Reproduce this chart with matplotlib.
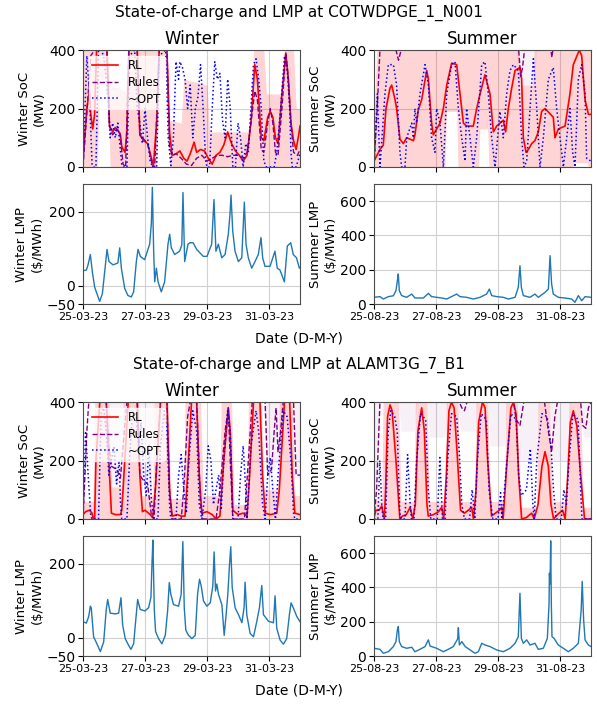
import matplotlib
matplotlib.use("Agg")
import matplotlib.pyplot as plt
import matplotlib.dates as mdates
import numpy as np
import pandas as pd

# --- values: (hours since start of week, value) ---

winter_start = "2023-03-25"
summer_start = "2023-08-25"
nodes = ["COTWDPGE_1_N001", "ALAMT3G_7_B1"]

# ---------------- COTWDPGE_1_N001 ----------------
cot_win_rl = [(0, 30), (3, 200), (5, 260), (6, 180), (7.5, 130), (9, 180), (10.5, 400), (18.5, 400),
              (20.5, 140), (23, 120), (25, 135), (27, 125), (29, 110), (30, 70), (32.5, 50), (34, 120),
              (35.5, 400), (42, 400), (44, 110), (47, 90), (50, 80), (54.5, 5), (57, 150), (59, 400),
              (65, 400), (67, 120), (69, 40), (72, 45), (75, 55), (78, 30), (80.5, 20), (83, 45), (86, 85),
              (88, 50), (91, 60), (94, 55), (97, 30), (100, 10), (103, 40), (106, 50), (109, 75), (112, 120),
              (115, 80), (118, 55), (121, 40), (124, 20), (127, 40), (130, 150), (133, 350), (135, 300),
              (138, 100), (140, 90), (143, 170), (145, 190), (147, 170), (149, 100), (151, 80), (154, 250),
              (157, 390), (159, 300), (161, 150), (163, 90), (165, 60), (167, 110), (168, 140)]
cot_win_rules = [(0, 0), (4, 250), (6, 380), (9, 400), (18.5, 400), (20.5, 140), (23, 110), (26, 130),
                 (28.5, 120), (31, 10), (33, 0), (35.5, 400), (42, 400), (44, 110), (47, 95), (50, 80),
                 (54, 0), (55.5, 0), (59, 400), (65, 400), (67, 70), (69, 40), (72, 45), (76, 30), (80, 10),
                 (84, 5), (88, 30), (92, 40), (96, 20), (100, 30), (104, 40), (108, 40), (112, 35), (116, 40),
                 (120, 40), (124, 30), (127, 50), (130, 150), (133, 260), (135, 230), (138, 60), (140, 50),
                 (143, 150), (145, 200), (147, 150), (149, 50), (151, 40), (154, 200), (157, 390), (159, 300),
                 (161, 150), (163, 50), (166, 40), (168, 60)]
cot_win_opt = [(0, 0), (3, 380), (5, 250), (7, 10), (8, 0), (10, 0), (12, 400), (14, 400), (16, 380),
               (18, 300), (20, 200), (21, 100), (23, 150), (25, 100), (27, 150), (28, 100), (30, 10), (31, 0),
               (34, 0), (36, 380), (40, 400), (42, 200), (44, 150), (46, 80), (48, 200), (50, 100), (52, 20),
               (54, 0), (57, 0), (59, 380), (64, 400), (66, 100), (68, 5), (70, 100), (72, 360), (74, 300),
               (75, 360), (77, 340), (79, 300), (81, 200), (83, 280), (85, 100), (87, 200), (89, 240),
               (91, 350), (93, 200), (95, 20), (96, 0), (98, 0), (100, 200), (102, 360), (104, 300),
               (106, 320), (108, 160), (110, 100), (112, 300), (114, 200), (116, 0), (118, 0), (120, 150),
               (122, 100), (124, 0), (126, 80), (128, 50), (130, 200), (132, 350), (134, 370), (136, 300),
               (138, 200), (140, 20), (142, 0), (148, 0), (150, 50), (153, 200), (156, 380), (158, 340),
               (160, 200), (161, 50), (162, 0), (165, 0), (167, 30), (168, 50)]
cot_win_rl_band = [(0, 0, 400), (11, 0, 400), (13, 300, 400), (19, 300, 400), (21, 0, 280), (33, 0, 260),
                   (35, 0, 400), (57, 0, 400), (59, 300, 400), (65, 300, 400), (67, 0, 160), (76, 0, 150),
                   (78, 0, 300), (96, 0, 280), (98, 0, 120), (130, 0, 120), (132, 0, 400), (140, 0, 400),
                   (142, 0, 250), (154, 0, 250), (156, 0, 400), (163, 0, 400), (165, 0, 200), (168, 0, 200)]
cot_win_ru_band = []
cot_win_lmp = [(0, 40), (2.6, 42), (3.9, 56), (5.7, 84), (7.2, 38), (9, -4), (10.3, -17), (12.9, -43),
               (15, -22), (16.8, 38), (18.6, 98), (20.1, 65), (23.2, 56), (27, 61), (28.4, 102), (29.7, 47),
               (32.3, -8), (34.8, -27), (37.4, -31), (39.2, -17), (41.3, 65), (42.6, 98), (44.4, 79),
               (47.7, 70), (51.6, 112), (52.9, 167), (53.7, 266), (54.7, 93), (55.5, 10), (56.8, 47),
               (58.1, 10), (60.6, -17), (63.2, 10), (65.8, 112), (67.1, 139), (68.4, 102), (71, 84),
               (74.8, 93), (76.5, 110), (77.4, 252), (78.7, 65), (81.3, 112), (82.8, 116), (85.2, 116),
               (88, 98), (93.1, 79), (96, 79), (99.6, 112), (101.4, 233), (102.9, 93), (104.8, 112),
               (107.4, 75), (110, 84), (112.5, 139), (113.8, 194), (114.6, 245), (115.9, 148), (117.7, 93),
               (120.3, 65), (122.9, 75), (124.9, 226), (126.2, 112), (128, 75), (130.6, 47), (133.2, 65),
               (135.7, 84), (137.8, 130), (139.1, 75), (140.9, 52), (144.8, 52), (148.6, 93), (150.4, 47),
               (152.5, 42), (155.9, 10), (158.2, 107), (160.8, 116), (162.8, 84), (165.3, 75), (167.5, 47),
               (168, 49)]

cot_sum_rl = [(0, 20), (4.6, 60), (7.2, 75), (9.3, 200), (12.4, 270), (13.7, 280), (16.3, 230), (17.5, 200),
              (20.1, 95), (22.7, 80), (25.3, 100), (30.5, 90), (31.7, 110), (34.3, 195), (36.9, 230),
              (40.8, 330), (42.1, 300), (44.6, 150), (45.9, 110), (48.5, 130), (51.1, 150), (53.7, 200),
              (56.3, 280), (60.1, 355), (64, 350), (66.6, 250), (69.2, 150), (71.7, 140), (76.9, 140),
              (79.5, 200), (82.1, 250), (85.9, 315), (89.8, 250), (92.4, 120), (95, 140), (97.5, 150),
              (100.1, 160), (101.9, 120), (104, 200), (106.6, 270), (109.2, 330), (113, 340), (114.3, 300),
              (115.6, 100), (117.7, 50), (119.5, 60), (122.1, 80), (124.6, 90), (127.2, 120), (129.8, 190),
              (132.4, 200), (138.8, 170), (140.1, 100), (142.7, 130), (147.9, 140), (151.7, 250),
              (154.3, 350), (159, 400), (160.8, 380), (163.4, 230), (166, 180), (168, 180)]
cot_sum_rules = [(0, 0), (3, 250), (4.6, 400), (17, 400), (19, 365), (21, 400), (112, 400), (113.5, 310),
                 (115, 340), (116.5, 400), (137, 400), (137.7, 375), (138.5, 400), (168, 400)]
cot_sum_opt = [(0, 0), (2.6, 250), (4.6, 0), (8.5, 250), (11.1, 350), (15, 350), (17.5, 280), (20.1, 50),
               (21.4, 0), (24, 0), (25.3, 100), (29.2, 150), (30.5, 100), (31.7, 200), (33, 150), (35.6, 250),
               (39.5, 350), (42.1, 280), (44.6, 100), (47.2, 50), (48.5, 200), (51.1, 150), (53.7, 0),
               (56.3, 250), (60.1, 350), (62.7, 360), (65.3, 200), (67.9, 100), (70.5, 20), (71.7, 200),
               (73, 150), (76.9, 0), (79.5, 100), (83.4, 350), (85.9, 360), (88.5, 250), (91.1, 100),
               (93.7, 0), (97.5, 190), (100.1, 100), (102.7, 250), (105.3, 330), (107.9, 350), (111.7, 330),
               (114.3, 100), (116.1, 0), (118.2, 20), (120.8, 200), (123.4, 370), (126, 200), (128.5, 0),
               (131.1, 100), (135, 300), (138.8, 340), (141.4, 200), (144, 100), (146.6, 0), (149.2, 100),
               (151.7, 200), (153.8, 50), (155.6, 0), (158.2, 300), (160.8, 350), (163.4, 250), (164.6, 30),
               (168, 20)]
cot_sum_rl_band = [(0, 0, 150), (2, 0, 400), (55, 0, 400), (56, 190, 400), (64, 190, 400), (65, 0, 400),
                   (81, 0, 400), (82, 130, 400), (88, 130, 400), (89, 0, 400), (112, 0, 400), (113, 0, 280),
                   (123, 0, 280), (124, 0, 400), (154, 0, 400), (155, 15, 400), (165, 15, 400), (166, 0, 400),
                   (168, 0, 400)]
cot_sum_ru_band = [(110, 400, 400), (112, 280, 400), (124, 280, 400), (126, 400, 400)]
cot_sum_lmp = [(0, 39), (4.6, 43), (7.2, 29), (11.1, 43), (15, 48), (17, 78), (18.1, 136), (18.8, 175),
               (19.6, 78), (21.4, 49), (25.3, 39), (29.2, 58), (31.7, 35), (38.2, 35), (42.1, 62), (44.6, 43),
               (48.5, 39), (52.4, 35), (56.3, 29), (64, 58), (66.6, 43), (71.7, 39), (76.9, 29), (82.1, 39),
               (87.2, 58), (89.3, 87), (91.1, 49), (95, 43), (100.1, 39), (104, 29), (109.2, 39), (111.7, 97),
               (113, 223), (114.1, 97), (115.6, 49), (120.8, 39), (124.6, 58), (127.2, 39), (132.4, 68),
               (135, 87), (136.3, 282), (137.5, 117), (138.8, 58), (142.7, 39), (147.9, 35), (153, 29),
               (155.6, 10), (158.2, 49), (160.8, 19), (163.4, 43), (168, 39)]

# ---------------- ALAMT3G_7_B1 ----------------
ala_win_rl = [(0, 15), (2, 25), (5, 30), (7, 20), (8, 0), (9, 0), (10, 200), (13, 400), (18, 400), (20, 200),
              (22, 20), (25, 15), (29, 15), (30, 30), (31, 100), (35, 400), (42, 400), (44, 150), (46, 25),
              (48, 30), (52, 15), (54, 5), (56, 100), (60, 400), (65, 400), (67, 100), (69, 10), (73, 15),
              (76, 10), (79, 10), (81, 150), (84, 400), (88, 400), (90, 150), (92, 20), (96, 25), (100, 15),
              (103, 0), (106, 10), (109, 200), (112.5, 380), (114, 300), (116, 30), (120, 15), (124, 20),
              (127, 10), (129, 150), (132, 400), (137, 400), (139, 150), (141, 20), (145, 15), (150, 20),
              (152, 100), (156, 400), (160, 400), (162, 150), (164, 20), (168, 15)]
ala_win_rules = [(0, 0), (3, 300), (4.5, 400), (18, 400), (20, 250), (22, 180), (26, 170), (29, 140),
                 (31, 250), (34, 400), (42, 400), (44, 150), (47, 130), (50, 120), (53, 10), (55, 0), (57, 200),
                 (60, 400), (65, 400), (67, 100), (69, 0), (76, 0), (78, 100), (81, 350), (83, 400), (88, 400),
                 (91, 50), (93, 0), (103, 0), (106, 100), (110, 300), (112.5, 380), (114, 200), (116, 0),
                 (125, 0), (128, 200), (131, 400), (141, 400), (143, 150), (146, 170), (148, 300),
                 (149.5, 380), (151, 230), (153, 300), (155, 400), (163, 400), (165, 150), (168, 150)]
ala_win_opt = [(0, 0), (2, 300), (4, 150), (6, 10), (7, 0), (12, 0), (14, 360), (16, 380), (18, 300),
               (20, 150), (22, 200), (24, 250), (26, 120), (28, 200), (29, 60), (30, 0), (34, 0), (36, 200),
               (38, 350), (41, 360), (43, 250), (45, 330), (47, 150), (49, 80), (51, 250), (53, 60), (55, 0),
               (58, 0), (60, 250), (63, 370), (65, 300), (67, 50), (68, 0), (72, 0), (74, 150), (76, 220),
               (78, 100), (80, 20), (82, 200), (85, 370), (88, 300), (90, 50), (92, 0), (95, 100), (97, 250),
               (99, 200), (101, 50), (103, 100), (105, 150), (107, 30), (109, 200), (112, 370), (114, 300),
               (116, 0), (120, 0), (122, 150), (124, 250), (126, 100), (127, 0), (130, 250), (134, 370),
               (136, 300), (139, 50), (141, 0), (143, 150), (145, 210), (147, 100), (149, 0), (151, 150),
               (155, 370), (158, 350), (161, 200), (163, 20), (164, 0), (168, 0)]
ala_win_rl_band = [(0, 0, 60), (8, 0, 60), (9, 0, 400), (20, 0, 400), (22, 0, 110), (30, 0, 110),
                   (31, 0, 400), (43, 0, 400), (45, 0, 80), (54, 0, 80), (55, 0, 400), (66, 0, 400),
                   (68, 0, 70), (78, 0, 70), (79, 0, 400), (91, 0, 400), (93, 0, 80), (106, 0, 80),
                   (107, 0, 400), (115, 0, 400), (117, 0, 50), (127, 0, 50), (128, 0, 400), (138, 0, 400),
                   (140, 0, 100), (151, 0, 100), (152, 0, 400), (162, 0, 400), (164, 0, 80), (168, 0, 80)]
ala_win_ru_band = [(18, 400, 400), (20, 120, 400), (30, 120, 400), (32, 400, 400), (42, 400, 400),
                   (44, 120, 400), (53, 100, 400), (55, 400, 400), (140, 400, 400), (142, 140, 400),
                   (152, 200, 400), (154, 400, 400), (163, 400, 400), (165, 140, 400), (168, 140, 400)]
ala_win_lmp = [(0, 43), (2.6, 39), (4.4, 57), (5.7, 85), (6.4, 80), (8.2, 2), (10.8, -17), (13.4, -38),
               (16, -12), (18, 76), (19.1, 103), (21.1, 66), (25, 64), (27.6, 66), (29.4, 108), (30.7, 34),
               (32.7, -3), (35.3, -21), (37.1, -32), (39.2, -17), (40.5, 34), (42.3, 103), (44.3, 76),
               (48, 72), (50.8, 81), (52.6, 109), (53.4, 200), (54.1, 264), (55.2, 76), (56.2, 16),
               (58.5, -3), (61.1, -17), (63.7, 6), (65.5, 72), (66.8, 149), (68, 117), (70.1, 89), (74, 85),
               (76, 117), (77.3, 260), (78.4, 80), (79.6, 20), (81.7, 6), (84.3, -3), (86.9, 6), (88.7, 117),
               (90.2, 158), (91.5, 140), (93.3, 99), (95.9, 85), (98.5, 94), (100.5, 140), (101.5, 232),
               (102.6, 126), (103.6, 145), (104.9, 117), (107.5, 89), (109.3, 6), (110.8, 62), (112.1, 117),
               (113.4, 196), (114.4, 246), (115.5, 136), (117.8, 80), (120.4, 62), (123, 40), (124.7, 81),
               (125.5, 150), (126.8, 62), (129.4, 11), (132, 2), (134.5, 43), (136.6, 81), (138.4, 141),
               (139.7, 62), (143.6, 44), (147.4, 40), (148.7, 113), (150, 25), (152.6, -7), (155.2, -18),
               (157.7, -3), (159.8, 62), (161.1, 94), (162.9, 80), (165.5, 57), (168, 43)]

ala_sum_rl = [(0, 5), (1.5, 30), (4, 30), (6, 45), (8, 0), (9, 100), (10.5, 350), (12.4, 390), (14, 370),
              (17, 200), (20, 0), (22, 10), (25, 15), (28, 40), (30, 0), (32, 50), (34, 300), (36.9, 380),
              (39, 300), (41, 50), (42, 10), (46, 15), (50, 25), (52.4, 40), (54, 0), (56, 150), (58, 370),
              (60, 400), (62, 380), (64, 250), (67, 30), (70, 20), (73, 30), (75.6, 40), (77, 0), (79, 100),
              (81, 330), (84, 400), (86, 380), (88, 200), (91, 10), (94, 20), (97, 30), (99, 40), (100, 0),
              (103, 200), (106, 380), (108, 400), (110, 360), (112, 150), (114.3, 0), (118, 5), (122, 20),
              (124, 0), (127, 50), (130, 180), (132.4, 230), (135, 180), (137, 50), (139, 0), (142, 15),
              (146, 30), (148, 0), (150, 150), (152, 330), (154.3, 370), (157, 320), (160, 150), (163, 0),
              (168, 0)]
ala_sum_rules = [(0, 0), (2, 100), (4.6, 400), (66, 400), (68, 380), (70, 370), (72, 400), (108, 400),
                 (110, 340), (113, 320), (116, 400), (132, 400), (135, 300), (137.5, 230), (140, 350),
                 (142, 400), (160, 400), (161.5, 320), (164, 310), (166, 380), (168, 400)]
ala_sum_opt = [(0, 0), (3, 0), (4.5, 200), (6, 50), (7, 0), (9, 0), (11, 300), (13, 370), (16, 350),
               (18, 300), (20, 20), (21, 0), (24, 0), (26, 220), (28, 50), (29, 0), (31, 0), (33, 200),
               (36, 360), (40, 340), (42, 100), (44, 0), (49, 0), (51, 210), (53, 0), (55, 0), (57, 200),
               (60, 360), (64, 350), (66, 230), (68, 50), (70, 0), (74, 0), (76, 100), (78, 0), (80, 200),
               (83, 360), (87, 340), (89, 100), (92, 0), (96, 0), (98, 90), (99, 0), (102, 150), (106, 360),
               (110, 340), (112, 150), (114, 80), (118, 100), (121, 240), (123, 50), (124, 0), (126, 200),
               (130, 360), (134, 350), (137, 250), (139, 100), (141, 0), (145, 0), (147, 100), (149, 50),
               (151, 200), (154, 360), (158, 340), (160, 100), (161, 0), (168, 0)]
ala_sum_rl_band = [(0, 0, 60), (6, 0, 60), (7, 0, 400), (19, 0, 400), (21, 0, 60), (31, 0, 60),
                   (32, 0, 400), (41, 0, 400), (43, 0, 60), (55, 0, 60), (56, 0, 400), (65, 0, 400),
                   (67, 0, 60), (78, 0, 60), (79, 0, 400), (88, 0, 400), (90, 0, 60), (101, 0, 60),
                   (102, 0, 400), (111, 0, 400), (113, 0, 40), (126, 0, 40), (127, 0, 400), (136, 0, 400),
                   (138, 0, 60), (150, 0, 60), (151, 0, 400), (160, 0, 400), (162, 0, 40), (168, 0, 40)]
ala_sum_ru_band = [(0, 0, 400), (5, 400, 400), (19, 400, 400), (21, 300, 400), (31, 300, 400),
                   (33, 400, 400), (41, 400, 400), (43, 280, 400), (55, 280, 400), (57, 400, 400),
                   (65, 400, 400), (67, 300, 400), (78, 300, 400), (80, 400, 400), (88, 400, 400),
                   (90, 250, 400), (101, 250, 400), (103, 400, 400), (111, 400, 400), (113, 200, 400),
                   (126, 200, 400), (128, 400, 400), (136, 400, 400), (138, 200, 400), (150, 200, 400),
                   (152, 400, 400), (160, 400, 400), (162, 280, 400), (168, 280, 400)]
ala_sum_lmp = [(0, 45), (4.6, 39), (7.2, 16), (11.1, 25), (15, 55), (17, 84), (18.1, 152), (18.8, 172),
               (19.6, 84), (21.4, 55), (25.3, 45), (29.2, 51), (31.7, 25), (35.6, 39), (39.5, 55), (42.1, 94),
               (43.4, 58), (48.5, 45), (53.7, 25), (57.5, 39), (61.4, 55), (64.8, 100), (65.3, 165),
               (66.1, 64), (68, 84), (70.6, 55), (74.5, 35), (78.2, 16), (80.8, 25), (83.4, 74), (86, 64),
               (89.8, 55), (95, 35), (100.1, 25), (105.3, 45), (109.2, 74), (111.7, 113), (113, 366),
               (114.1, 103), (115.6, 74), (118.2, 94), (120.8, 64), (124.6, 74), (127.2, 39), (131.1, 45),
               (134.2, 103), (135.5, 300), (135.8, 483), (136.3, 420), (136.8, 672), (137.3, 300),
               (137.8, 113), (139.4, 103), (142.7, 64), (146.6, 45), (150.5, 25), (154.3, 45), (158.2, 74),
               (160.4, 269), (161.2, 435), (162.3, 210), (163.4, 94), (166, 64), (168, 55)]


def to_time(start, pts):
    a = np.array(pts, dtype=float)
    t = pd.Timestamp(start) + pd.to_timedelta(a[:, 0], unit="h")
    return t, a[:, 1:]


def style_x(ax, start, labels):
    t0 = pd.Timestamp(start)
    ax.set_xlim(t0, t0 + pd.Timedelta(days=7))
    ax.xaxis.set_major_locator(mdates.DayLocator(bymonthday=[25, 27, 29, 31]))
    ax.xaxis.set_major_formatter(mdates.DateFormatter("%d-%m-%y"))
    ax.tick_params(axis="x", labelsize=8, labelbottom=labels, pad=2.5)
    ax.tick_params(axis="y", labelsize=10, pad=2)
    ax.grid(True, color="0.82", linewidth=0.8)
    ax.set_axisbelow(True)
    for s in ax.spines.values():
        s.set_color("0.3")


def soc_panel(ax, start, rl, rules, opt, rl_band, ru_band, season, legend):
    if ru_band:
        t, v = to_time(start, ru_band)
        ax.fill_between(t, v[:, 0], v[:, 1], color="purple", alpha=0.06, linewidth=0)
    t, v = to_time(start, rl_band)
    ax.fill_between(t, v[:, 0], v[:, 1], color="red", alpha=0.17, linewidth=0)
    t, v = to_time(start, rl)
    ax.plot(t, v[:, 0], color="red", lw=1.2, label="RL")
    t, v = to_time(start, rules)
    ax.plot(t, v[:, 0], color="purple", lw=1.0, ls="--", label="Rules")
    t, v = to_time(start, opt)
    ax.plot(t, v[:, 0], color="blue", lw=1.1, ls=":", label="~OPT")
    ax.set_ylim(0, 400)
    ax.set_yticks([0, 200, 400])
    ax.set_ylabel(f"{season} SoC\n(MW)", fontsize=9.5, labelpad=2)
    ax.set_title(season, fontsize=12, pad=4)
    style_x(ax, start, False)
    if legend:
        ax.legend(loc="upper left", fontsize=8.5, framealpha=0.75, borderpad=0.3,
                  labelspacing=0.3, handlelength=2.2, edgecolor="white")


def lmp_panel(ax, start, lmp, season):
    t, v = to_time(start, lmp)
    ax.plot(t, v[:, 0], color="tab:blue", lw=1.0)
    if season == "Winter":
        ax.set_ylim(-50, 275)
        ax.set_yticks([-50, 0, 200])
    else:
        ax.set_ylim(0, 700)
        ax.set_yticks([0, 200, 400, 600])
    ax.set_ylabel(f"{season} LMP\n(\\$/MWh)", fontsize=9.5, labelpad=2)
    style_x(ax, start, True)


W, H = 597, 704
fig = plt.figure(figsize=(W / 100, H / 100), dpi=100)


def box(x0, y0, x1, y1):
    return [x0 / W, 1 - y1 / H, (x1 - x0) / W, (y1 - y0) / H]


blocks = [
    (nodes[0], 0, (cot_win_rl, cot_win_rules, cot_win_opt, cot_win_rl_band, cot_win_ru_band, cot_win_lmp),
     (cot_sum_rl, cot_sum_rules, cot_sum_opt, cot_sum_rl_band, cot_sum_ru_band, cot_sum_lmp)),
    (nodes[1], 352, (ala_win_rl, ala_win_rules, ala_win_opt, ala_win_rl_band, ala_win_ru_band, ala_win_lmp),
     (ala_sum_rl, ala_sum_rules, ala_sum_opt, ala_sum_rl_band, ala_sum_ru_band, ala_sum_lmp)),
]

for node, dy, win, summ in blocks:
    fig.text(0.5, 1 - (13 + dy) / H, f"State-of-charge and LMP at {node}",
             ha="center", va="center", fontsize=11)
    fig.text(0.5, 1 - (338 + dy) / H, "Date (D-M-Y)", ha="center", va="center", fontsize=10)
    for (x0, x1), start, season, d in [((83, 300), winter_start, "Winter", win),
                                       ((374, 591), summer_start, "Summer", summ)]:
        ax1 = fig.add_axes(box(x0, 50 + dy, x1, 167 + dy))
        soc_panel(ax1, start, d[0], d[1], d[2], d[3], d[4], season, season == "Winter")
        ax2 = fig.add_axes(box(x0, 184 + dy, x1, 304 + dy))
        lmp_panel(ax2, start, d[5], season)

fig.savefig("out.png", dpi=100)
